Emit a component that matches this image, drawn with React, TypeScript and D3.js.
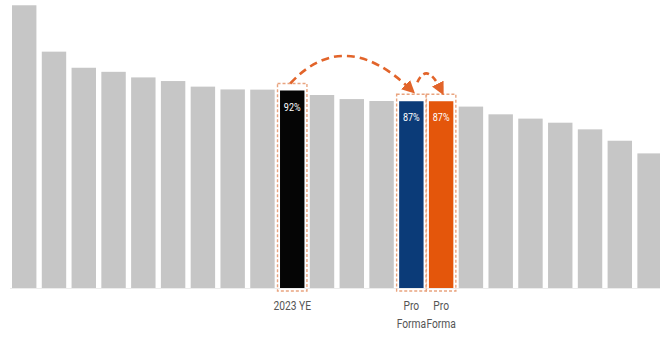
import React from "react";
import * as d3 from "d3";

const W = 660;
const H = 337;

const categories: string[] = Array.from({ length: 22 }, (_, i) => `B${i + 1}`);
const values: number[] = [
  131.7, 110.1, 102.6, 100.7, 98.1, 96.4, 93.8, 92.5, 92.4, 92, 89.9, 88.0, 87.1,
  87, 87, 84.5, 80.9, 78.9, 77.0, 73.9, 68.6, 62.7,
];
// index -> highlight
const highlightIdx: number[] = [9, 13, 14];
const highlightColors: string[] = ["#050505", "#0b3b78", "#e4560b"];
const highlightLabels: string[] = ["92%", "87%", "87%"];
const axisLabels: { idx: number; lines: string[] }[] = [
  { idx: 9, lines: ["2023 YE"] },
  { idx: 13, lines: ["Pro", "Forma"] },
  { idx: 14, lines: ["Pro", "Forma"] },
];

const GRAY = "#c6c6c6";
const ORANGE = "#e2642a";
const FONT = "'Roboto', 'DejaVu Sans Condensed', sans-serif";

export default function App() {
  const baseline = 288;
  const x = d3
    .scaleBand<string>()
    .domain(categories)
    .range([12, 661.8])
    .paddingInner(0.18)
    .paddingOuter(0);
  const y = d3.scaleLinear().domain([0, 92]).range([baseline, 90.5]);
  const bw = x.bandwidth();

  const colorOf = (i: number) => {
    const k = highlightIdx.indexOf(i);
    return k >= 0 ? highlightColors[k] : GRAY;
  };

  const cx = (i: number) => (x(categories[i]) as number) + bw / 2;

  const blackI = highlightIdx[0];
  const blueI = highlightIdx[1];
  const orangeI = highlightIdx[2];
  const boxTop = (i: number) => y(values[i]) - 7;
  const bigArc = d3.path();
  const sx = cx(blackI) - 2;
  const sy = boxTop(blackI);
  const ex = cx(blueI) - 2;
  const ey = boxTop(blueI) - 6;
  bigArc.moveTo(sx, sy);
  bigArc.quadraticCurveTo((sx + ex) / 2 - 6, 26, ex, ey);
  const smallArc = d3.path();
  const s2x = cx(blueI) + 6;
  const s2y = boxTop(blueI) - 12;
  const e2x = cx(orangeI) - 1;
  const e2y = boxTop(orangeI) - 6;
  smallArc.moveTo(s2x, s2y);
  smallArc.quadraticCurveTo((s2x + e2x) / 2 - 2, 62, e2x, e2y);

  return (
    <svg
      width={W}
      height={H}
      style={{ position: "absolute", left: 0, top: 0, background: "#fff" }}
    >
      <defs>
        <marker
          id="arrow"
          viewBox="0 0 10 10"
          refX="4"
          refY="5"
          markerWidth="5"
          markerHeight="5"
          orient="auto"
          markerUnits="strokeWidth"
        >
          <path d="M0,0 L10,5 L0,10 z" fill={ORANGE} />
        </marker>
      </defs>
      <line x1={10} x2={660} y1={baseline + 0.5} y2={baseline + 0.5} stroke="#ececec" strokeWidth={1} />
      {values.map((v, i) => (
        <rect
          key={categories[i]}
          x={x(categories[i])}
          y={y(v)}
          width={bw}
          height={baseline - y(v)}
          fill={colorOf(i)}
        />
      ))}
      {highlightIdx.map((i, k) => (
        <g key={`hl${i}`}>
          <rect
            x={(x(categories[i]) as number) - 2.5}
            y={boxTop(i)}
            width={bw + 5}
            height={baseline - boxTop(i) + 3}
            fill="none"
            stroke="#e9a47f"
            strokeWidth={1.4}
            strokeDasharray="3 2"
          />
          <g transform={`translate(${cx(i)},${y(values[i]) + 20}) scale(0.82,1)`}>
            <text textAnchor="middle" fill="#fff" fontSize={11} fontFamily={FONT}>
              {highlightLabels[k]}
            </text>
          </g>
        </g>
      ))}
      <path
        d={bigArc.toString()}
        fill="none"
        stroke={ORANGE}
        strokeWidth={2.6}
        strokeDasharray="8 5"
        markerEnd="url(#arrow)"
      />
      <path
        d={smallArc.toString()}
        fill="none"
        stroke={ORANGE}
        strokeWidth={2.6}
        strokeDasharray="6 4"
        markerEnd="url(#arrow)"
      />
      {axisLabels.map((l) => (
        <g key={`lab${l.idx}`} transform={`translate(${cx(l.idx)},310) scale(0.82,1)`}>
          <text textAnchor="middle" fill="#555" fontSize={12.5} fontFamily={FONT}>
            {l.lines.map((ln, j) => (
              <tspan key={j} x={0} dy={j === 0 ? 0 : 18}>
                {ln}
              </tspan>
            ))}
          </text>
        </g>
      ))}
    </svg>
  );
}
